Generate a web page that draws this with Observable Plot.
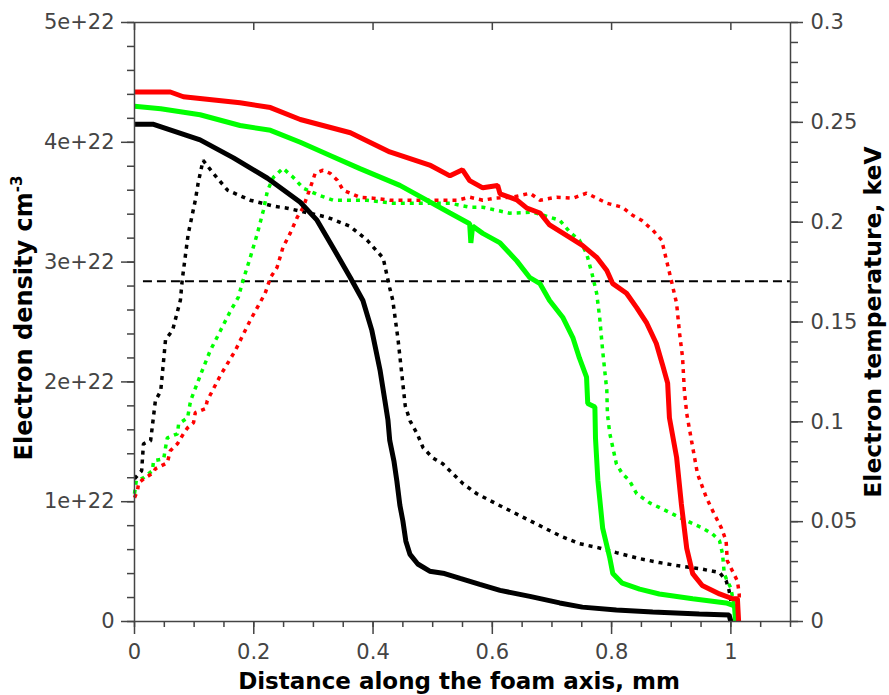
<!DOCTYPE html>
<html>
<head>
<meta charset="utf-8">
<script src="https://cdn.jsdelivr.net/npm/d3@7"></script>
<script src="https://cdn.jsdelivr.net/npm/@observablehq/plot@0.6"></script>
<style>
  html, body { margin: 0; padding: 0; background: white; }
  #chart svg { display: block; }
</style>
</head>
<body>
<div id="chart"></div>
<script>
// ---- axis ticks ----
const xTicks = [0, 0.2, 0.4, 0.6, 0.8, 1];
const densityTicks = [0, 1, 2, 3, 4, 5];            // units of 1e22 cm^-3
const tempTicks = [0, 0.05, 0.1, 0.15, 0.2, 0.25, 0.3]; // keV
const critDensity = 2.84;                            // dashed reference line (1e22 cm^-3)

// ---- electron density (x mm, n in 1e22 cm^-3) ----
const blackDensity = [
  [0,4.15],[0.032,4.15],[0.11,4.02],[0.166,3.87],[0.223,3.70],[0.278,3.50],[0.306,3.35],
  [0.333,3.12],[0.362,2.87],[0.383,2.68],[0.398,2.43],[0.412,2.09],[0.42,1.84],[0.425,1.68],
  [0.428,1.51],[0.435,1.34],[0.44,1.17],[0.445,0.97],[0.45,0.84],[0.455,0.67],[0.462,0.56],
  [0.475,0.48],[0.495,0.42],[0.52,0.40],[0.546,0.36],[0.579,0.31],[0.613,0.26],[0.663,0.21],
  [0.713,0.155],[0.751,0.12],[0.808,0.096],[0.869,0.08],[0.947,0.063],[0.997,0.054],[1.0,0]
];
const greenDensity = [
  [0,4.30],[0.044,4.28],[0.11,4.23],[0.177,4.14],[0.228,4.10],[0.278,4.00],[0.328,3.89],
  [0.378,3.78],[0.445,3.64],[0.529,3.41],[0.562,3.32],[0.564,3.16],[0.567,3.30],[0.584,3.24],
  [0.613,3.16],[0.641,3.01],[0.663,2.87],[0.68,2.82],[0.696,2.68],[0.718,2.54],[0.735,2.37],
  [0.746,2.20],[0.758,2.04],[0.76,1.82],[0.772,1.79],[0.773,1.53],[0.777,1.18],[0.785,0.78],
  [0.797,0.53],[0.802,0.40],[0.818,0.32],[0.847,0.27],[0.88,0.23],[0.936,0.19],[0.992,0.155],
  [1.006,0.13],[1.008,0]
];
const redDensity = [
  [0,4.42],[0.06,4.42],[0.082,4.38],[0.177,4.33],[0.228,4.29],[0.278,4.19],[0.362,4.08],
  [0.428,3.92],[0.495,3.81],[0.529,3.72],[0.55,3.77],[0.562,3.68],[0.584,3.62],[0.609,3.64],
  [0.613,3.57],[0.641,3.52],[0.658,3.45],[0.68,3.41],[0.696,3.31],[0.725,3.22],[0.751,3.14],
  [0.775,3.04],[0.792,2.93],[0.802,2.82],[0.825,2.74],[0.842,2.62],[0.859,2.49],[0.875,2.32],
  [0.885,2.15],[0.894,1.99],[0.897,1.70],[0.909,1.37],[0.917,0.98],[0.926,0.61],[0.936,0.40],
  [0.952,0.30],[0.981,0.23],[1.003,0.19],[1.011,0.19],[1.013,0]
];

// ---- electron temperature (x mm, T keV) ----
const blackTemp = [
  [0,0.0715],[0.012,0.0755],[0.015,0.089],[0.027,0.0905],[0.035,0.1105],[0.044,0.1155],
  [0.052,0.141],[0.064,0.146],[0.077,0.161],[0.08,0.171],[0.09,0.194],[0.102,0.211],
  [0.107,0.220],[0.115,0.231],[0.132,0.2245],[0.156,0.216],[0.194,0.211],[0.233,0.208],
  [0.256,0.207],[0.323,0.2025],[0.361,0.198],[0.39,0.191],[0.417,0.182],[0.428,0.167],
  [0.433,0.161],[0.442,0.141],[0.454,0.108],[0.462,0.1005],[0.474,0.094],[0.484,0.087],
  [0.50,0.082],[0.517,0.079],[0.551,0.069],[0.574,0.064],[0.613,0.058],[0.663,0.0505],
  [0.713,0.043],[0.746,0.039],[0.777,0.037],[0.808,0.0345],[0.847,0.0315],[0.88,0.0295],
  [0.91,0.028],[0.947,0.0265],[0.981,0.0245],[0.992,0.0205],[0.997,0.0155],[1.0,0.0103]
];
const greenTemp = [
  [0,0.064],[0.003,0.0705],[0.015,0.072],[0.03,0.0755],[0.032,0.0805],[0.049,0.0815],
  [0.052,0.087],[0.055,0.092],[0.072,0.094],[0.074,0.099],[0.089,0.102],[0.094,0.1105],
  [0.11,0.123],[0.127,0.1357],[0.144,0.1456],[0.161,0.1556],[0.174,0.1623],[0.182,0.1708],
  [0.194,0.1822],[0.206,0.1943],[0.216,0.2058],[0.223,0.2158],[0.233,0.2225],[0.249,0.227],
  [0.266,0.2225],[0.283,0.217],[0.311,0.2133],[0.333,0.211],[0.39,0.211],[0.433,0.2095],
  [0.529,0.2095],[0.562,0.2075],[0.584,0.2075],[0.629,0.2045],[0.668,0.205],[0.713,0.201],
  [0.73,0.195],[0.746,0.191],[0.758,0.1844],[0.767,0.1744],[0.775,0.1643],[0.78,0.1523],
  [0.785,0.1357],[0.792,0.1157],[0.793,0.104],[0.797,0.0941],[0.808,0.079],[0.818,0.074],
  [0.83,0.0705],[0.842,0.064],[0.864,0.0594],[0.885,0.0564],[0.902,0.0539],[0.926,0.0504],
  [0.952,0.0469],[0.969,0.0439],[0.981,0.0404],[0.986,0.0339],[0.989,0.0238],[0.994,0.0203],
  [1.0,0.0168],[1.003,0.0118],[1.005,0.0078]
];
const redTemp = [
  [0,0.062],[0.005,0.0655],[0.007,0.0695],[0.018,0.072],[0.032,0.0745],[0.035,0.0765],
  [0.055,0.0795],[0.06,0.0855],[0.072,0.089],[0.082,0.094],[0.089,0.097],[0.099,0.0996],
  [0.102,0.1046],[0.119,0.1066],[0.122,0.1106],[0.144,0.1232],[0.169,0.1357],[0.194,0.1508],
  [0.219,0.1643],[0.228,0.1723],[0.239,0.1773],[0.249,0.1874],[0.261,0.1944],[0.273,0.2025],
  [0.283,0.2075],[0.295,0.2175],[0.303,0.2245],[0.316,0.226],[0.328,0.2245],[0.34,0.221],
  [0.35,0.216],[0.378,0.2125],[0.40,0.212],[0.428,0.211],[0.541,0.211],[0.562,0.2125],
  [0.584,0.211],[0.604,0.212],[0.634,0.2125],[0.663,0.2145],[0.68,0.211],[0.708,0.2125],
  [0.735,0.212],[0.758,0.2145],[0.792,0.2095],[0.818,0.2075],[0.835,0.2035],[0.85,0.201],
  [0.869,0.196],[0.884,0.191],[0.892,0.181],[0.90,0.171],[0.909,0.1593],[0.914,0.1443],
  [0.919,0.1323],[0.922,0.1157],[0.926,0.1041],[0.934,0.0906],[0.944,0.074],[0.959,0.062],
  [0.972,0.0539],[0.984,0.0469],[0.992,0.0404],[0.994,0.0304],[1.011,0.0203],[1.014,0.0138],
  [1.014,0.0103]
];

// temperature axis (0..0.3 keV) is mapped onto the density axis (0..5e22)
const K = 5 / 0.3;
const fmtT = d => String(+(d / K).toFixed(2));

const densLine = (data, color) => Plot.line(data, {
  x: d => d[0], y: d => d[1], stroke: color, strokeWidth: 5,
  strokeLinejoin: "miter", strokeLinecap: "butt"
});
const tempLine = (data, color) => Plot.line(data, {
  x: d => d[0], y: d => d[1] * K, stroke: color, strokeWidth: 3.5,
  strokeDasharray: "4,5", strokeLinejoin: "miter", strokeLinecap: "butt"
});

const chart = Plot.plot({
  width: 889,
  height: 695,
  marginLeft: 134,
  marginRight: 99,
  marginTop: 22,
  marginBottom: 74,
  x: {domain: [0, 1.1]},
  y: {domain: [0, 5]},
  style: {fontFamily: "DejaVu Sans", fontSize: "21px", color: "#444", background: "white"},
  marks: [
    Plot.ruleY([critDensity], {x1: 0.015, x2: 1.1, stroke: "black", strokeWidth: 2, strokeDasharray: "9,5"}),
    tempLine(blackTemp, "black"),
    tempLine(greenTemp, "#00ff00"),
    tempLine(redTemp, "#ff0000"),
    densLine(blackDensity, "black"),
    densLine(greenDensity, "#00ff00"),
    densLine(redDensity, "#ff0000"),
    Plot.frame({stroke: "#444", strokeWidth: 1.5}),
    // bottom axis
    Plot.axisX(xTicks, {anchor: "bottom", tickSize: 13, tickPadding: 10, tickFormat: d => String(d), label: null, stroke: "#444", strokeWidth: 1.5}),
    Plot.axisX(d3.range(0, 1.1001, 0.05), {anchor: "bottom", tickSize: 6, text: null, label: null, stroke: "#444", strokeWidth: 1.5}),
    // top axis (inward ticks)
    Plot.axisX(xTicks, {anchor: "top", tickSize: -7, text: null, label: null, stroke: "#444", strokeWidth: 1.5}),
    // left axis: density
    Plot.axisY(densityTicks, {anchor: "left", tickSize: 13, tickPadding: 7, tickFormat: d => d === 0 ? "0" : d + "e+22", label: null, stroke: "#444", strokeWidth: 1.5}),
    Plot.axisY(d3.range(0, 5.001, 0.2), {anchor: "left", tickSize: 7, text: null, label: null, stroke: "#444", strokeWidth: 1.5}),
    // right axis: temperature
    Plot.axisY(tempTicks.map(t => t * K), {anchor: "right", tickSize: 12, tickPadding: 8, tickFormat: fmtT, label: null, stroke: "#444", strokeWidth: 1.5}),
    Plot.axisY(d3.range(0, 0.3001, 0.01).map(t => t * K), {anchor: "right", tickSize: 7, text: null, label: null, stroke: "#444", strokeWidth: 1.5})
  ]
});

document.getElementById("chart").appendChild(chart);

// axis titles
const svg = d3.select(chart);
const yl = svg.append("text")
  .attr("transform", "translate(32,318) rotate(-90)")
  .attr("text-anchor", "middle")
  .attr("font-family", "DejaVu Sans").attr("font-weight", "bold").attr("font-size", 24).attr("fill", "black");
yl.append("tspan").text("Electron density cm");
yl.append("tspan").attr("font-size", 15).attr("dy", -10).text("-3");

svg.append("text")
  .attr("transform", "translate(881,322) rotate(-90)")
  .attr("text-anchor", "middle")
  .attr("font-family", "DejaVu Sans").attr("font-weight", "bold").attr("font-size", 23.5).attr("fill", "black")
  .text("Electron temperature, keV");

svg.append("text")
  .attr("x", 459).attr("y", 689)
  .attr("text-anchor", "middle")
  .attr("font-family", "DejaVu Sans").attr("font-weight", "bold").attr("font-size", 23).attr("fill", "black")
  .text("Distance along the foam axis, mm");
</script>
</body>
</html>
